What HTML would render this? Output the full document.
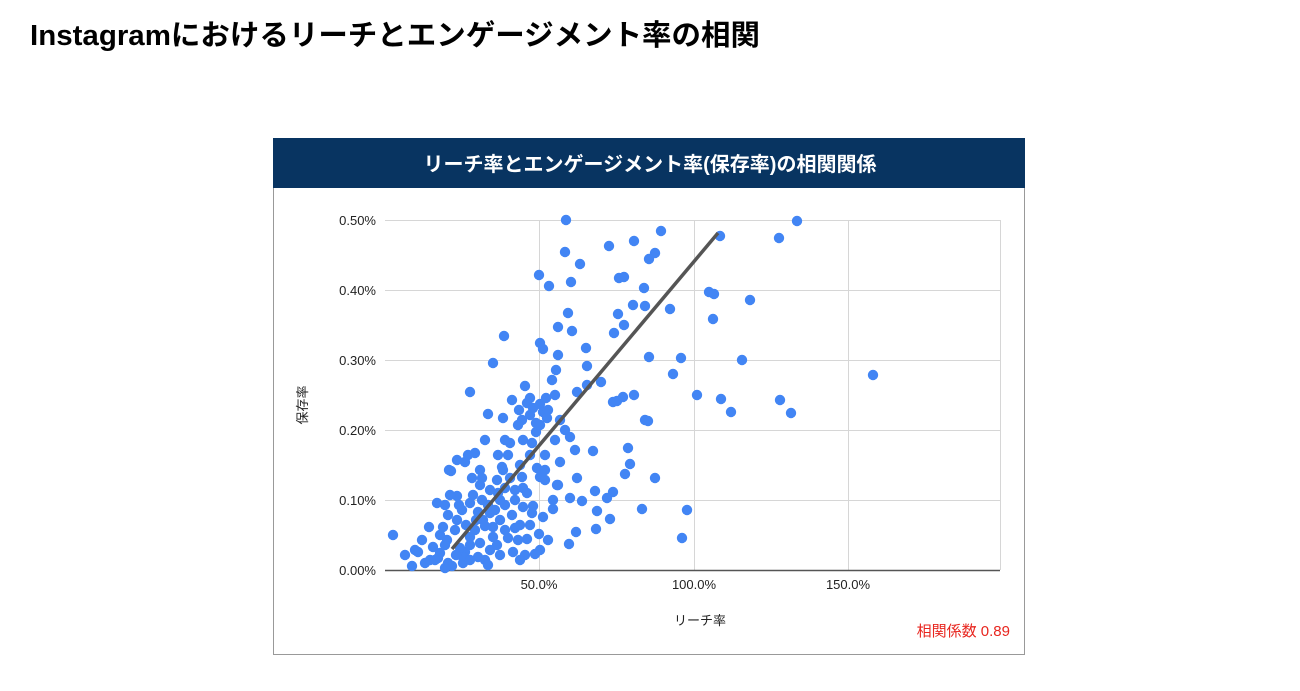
<!DOCTYPE html>
<html><head><meta charset="utf-8"><style>
html,body{margin:0;padding:0;background:#fff;width:1300px;height:691px;overflow:hidden}
svg{display:block}
text{font-family:"Liberation Sans","Noto Sans CJK JP",sans-serif}
</style></head><body>
<svg width="1300" height="691" viewBox="0 0 1300 691" xmlns="http://www.w3.org/2000/svg">
<text x="30" y="45" font-size="29" font-weight="bold" fill="#000" textLength="730" lengthAdjust="spacingAndGlyphs">Instagramにおけるリーチとエンゲージメント率の相関</text>
<rect x="273.5" y="138.5" width="751" height="516" fill="#fff" stroke="#999" stroke-width="1"/>
<rect x="273" y="138" width="752" height="50" fill="#083461"/>
<text x="650" y="171" font-size="20" font-weight="bold" fill="#fff" text-anchor="middle">リーチ率とエンゲージメント率(保存率)の相関関係</text>
<g stroke="#d6d6d6" stroke-width="1">
<line x1="385" y1="220.5" x2="1000" y2="220.5"/>
<line x1="385" y1="290.5" x2="1000" y2="290.5"/>
<line x1="385" y1="360.5" x2="1000" y2="360.5"/>
<line x1="385" y1="430.5" x2="1000" y2="430.5"/>
<line x1="385" y1="500.5" x2="1000" y2="500.5"/>
<line x1="539.5" y1="220" x2="539.5" y2="570"/>
<line x1="694.5" y1="220" x2="694.5" y2="570"/>
<line x1="848.5" y1="220" x2="848.5" y2="570"/>
<line x1="1000.5" y1="220" x2="1000.5" y2="570"/>
</g>
<line x1="385" y1="570.5" x2="1000" y2="570.5" stroke="#555" stroke-width="1.5"/>
<g font-size="13" fill="#222" text-anchor="end">
<text x="376" y="225">0.50%</text><text x="376" y="295">0.40%</text><text x="376" y="365">0.30%</text>
<text x="376" y="435">0.20%</text><text x="376" y="505">0.10%</text><text x="376" y="575">0.00%</text>
</g>
<g font-size="13" fill="#222" text-anchor="middle">
<text x="539" y="589">50.0%</text><text x="694" y="589">100.0%</text><text x="848" y="589">150.0%</text>
<text x="700" y="625">リーチ率</text>
</g>
<text transform="translate(307,405) rotate(-90)" font-size="13" fill="#222" text-anchor="middle">保存率</text>
<text x="1010" y="636" font-size="15" fill="#e8261f" text-anchor="end">相関係数 0.89</text>
<g fill="#4285f4">
<circle cx="566" cy="220" r="5.2"/><circle cx="661" cy="231" r="5.2"/><circle cx="720" cy="236" r="5.2"/><circle cx="797" cy="221" r="5.2"/><circle cx="779" cy="238" r="5.2"/><circle cx="634" cy="241" r="5.2"/><circle cx="565" cy="252" r="5.2"/><circle cx="609" cy="246" r="5.2"/><circle cx="655" cy="253" r="5.2"/><circle cx="649" cy="259" r="5.2"/><circle cx="580" cy="264" r="5.2"/><circle cx="539" cy="275" r="5.2"/><circle cx="619" cy="278" r="5.2"/><circle cx="624" cy="277" r="5.2"/><circle cx="571" cy="282" r="5.2"/><circle cx="549" cy="286" r="5.2"/><circle cx="644" cy="288" r="5.2"/><circle cx="709" cy="292" r="5.2"/><circle cx="714" cy="294" r="5.2"/><circle cx="504" cy="336" r="5.2"/><circle cx="645" cy="306" r="5.2"/><circle cx="633" cy="305" r="5.2"/><circle cx="618" cy="314" r="5.2"/><circle cx="568" cy="313" r="5.2"/><circle cx="750" cy="300" r="5.2"/><circle cx="670" cy="309" r="5.2"/><circle cx="558" cy="327" r="5.2"/><circle cx="572" cy="331" r="5.2"/><circle cx="614" cy="333" r="5.2"/><circle cx="586" cy="348" r="5.2"/><circle cx="540" cy="343" r="5.2"/><circle cx="543" cy="349" r="5.2"/><circle cx="624" cy="325" r="5.2"/><circle cx="713" cy="319" r="5.2"/><circle cx="493" cy="363" r="5.2"/><circle cx="558" cy="355" r="5.2"/><circle cx="649" cy="357" r="5.2"/><circle cx="681" cy="358" r="5.2"/><circle cx="742" cy="360" r="5.2"/><circle cx="873" cy="375" r="5.2"/><circle cx="470" cy="392" r="5.2"/><circle cx="556" cy="370" r="5.2"/><circle cx="525" cy="386" r="5.2"/><circle cx="587" cy="366" r="5.2"/><circle cx="673" cy="374" r="5.2"/><circle cx="697" cy="395" r="5.2"/><circle cx="721" cy="399" r="5.2"/><circle cx="780" cy="400" r="5.2"/><circle cx="731" cy="412" r="5.2"/><circle cx="791" cy="413" r="5.2"/><circle cx="577" cy="392" r="5.2"/><circle cx="601" cy="382" r="5.2"/><circle cx="623" cy="397" r="5.2"/><circle cx="634" cy="395" r="5.2"/><circle cx="645" cy="420" r="5.2"/><circle cx="613" cy="402" r="5.2"/>
<circle cx="552" cy="380" r="5.2"/><circle cx="587" cy="385" r="5.2"/><circle cx="617" cy="401" r="5.2"/><circle cx="648" cy="421" r="5.2"/><circle cx="488" cy="414" r="5.2"/><circle cx="503" cy="418" r="5.2"/><circle cx="527" cy="403" r="5.2"/><circle cx="533" cy="408" r="5.2"/><circle cx="540" cy="404" r="5.2"/><circle cx="543" cy="412" r="5.2"/><circle cx="530" cy="415" r="5.2"/><circle cx="522" cy="420" r="5.2"/><circle cx="536" cy="423" r="5.2"/><circle cx="547" cy="418" r="5.2"/><circle cx="519" cy="410" r="5.2"/><circle cx="530" cy="398" r="5.2"/><circle cx="546" cy="398" r="5.2"/><circle cx="536" cy="432" r="5.2"/><circle cx="485" cy="440" r="5.2"/><circle cx="510" cy="443" r="5.2"/><circle cx="523" cy="440" r="5.2"/><circle cx="532" cy="443" r="5.2"/><circle cx="570" cy="437" r="5.2"/><circle cx="575" cy="450" r="5.2"/><circle cx="593" cy="451" r="5.2"/><circle cx="628" cy="448" r="5.2"/><circle cx="630" cy="464" r="5.2"/><circle cx="560" cy="462" r="5.2"/><circle cx="545" cy="455" r="5.2"/><circle cx="577" cy="478" r="5.2"/><circle cx="558" cy="485" r="5.2"/><circle cx="595" cy="491" r="5.2"/><circle cx="613" cy="492" r="5.2"/><circle cx="607" cy="498" r="5.2"/><circle cx="625" cy="474" r="5.2"/><circle cx="655" cy="478" r="5.2"/><circle cx="570" cy="498" r="5.2"/><circle cx="582" cy="501" r="5.2"/><circle cx="553" cy="500" r="5.2"/><circle cx="553" cy="509" r="5.2"/><circle cx="597" cy="511" r="5.2"/><circle cx="610" cy="519" r="5.2"/><circle cx="642" cy="509" r="5.2"/><circle cx="687" cy="510" r="5.2"/><circle cx="576" cy="532" r="5.2"/><circle cx="596" cy="529" r="5.2"/><circle cx="569" cy="544" r="5.2"/><circle cx="682" cy="538" r="5.2"/><circle cx="393" cy="535" r="5.2"/><circle cx="412" cy="566" r="5.2"/><circle cx="437" cy="503" r="5.2"/><circle cx="451" cy="471" r="5.2"/><circle cx="457" cy="496" r="5.2"/><circle cx="459" cy="505" r="5.2"/><circle cx="465" cy="462" r="5.2"/><circle cx="468" cy="455" r="5.2"/><circle cx="475" cy="453" r="5.2"/><circle cx="472" cy="478" r="5.2"/><circle cx="480" cy="470" r="5.2"/><circle cx="482" cy="478" r="5.2"/><circle cx="497" cy="480" r="5.2"/><circle cx="502" cy="467" r="5.2"/><circle cx="508" cy="455" r="5.2"/><circle cx="503" cy="470" r="5.2"/><circle cx="522" cy="477" r="5.2"/><circle cx="523" cy="488" r="5.2"/><circle cx="527" cy="493" r="5.2"/><circle cx="537" cy="468" r="5.2"/><circle cx="540" cy="477" r="5.2"/><circle cx="545" cy="480" r="5.2"/><circle cx="557" cy="485" r="5.2"/>
<circle cx="448" cy="515" r="5.2"/><circle cx="457" cy="520" r="5.2"/><circle cx="429" cy="527" r="5.2"/><circle cx="443" cy="527" r="5.2"/><circle cx="433" cy="547" r="5.2"/><circle cx="418" cy="552" r="5.2"/><circle cx="438" cy="558" r="5.2"/><circle cx="448" cy="563" r="5.2"/><circle cx="463" cy="563" r="5.2"/><circle cx="478" cy="557" r="5.2"/><circle cx="490" cy="550" r="5.2"/><circle cx="480" cy="543" r="5.2"/><circle cx="470" cy="537" r="5.2"/><circle cx="493" cy="537" r="5.2"/><circle cx="508" cy="538" r="5.2"/><circle cx="515" cy="528" r="5.2"/><circle cx="512" cy="515" r="5.2"/><circle cx="505" cy="505" r="5.2"/><circle cx="490" cy="513" r="5.2"/><circle cx="482" cy="500" r="5.2"/><circle cx="473" cy="495" r="5.2"/><circle cx="498" cy="493" r="5.2"/><circle cx="513" cy="552" r="5.2"/><circle cx="525" cy="555" r="5.2"/><circle cx="535" cy="554" r="5.2"/><circle cx="527" cy="539" r="5.2"/><circle cx="539" cy="534" r="5.2"/><circle cx="532" cy="513" r="5.2"/><circle cx="543" cy="517" r="5.2"/><circle cx="523" cy="507" r="5.2"/><circle cx="533" cy="506" r="5.2"/><circle cx="465" cy="552" r="5.2"/><circle cx="447" cy="540" r="5.2"/><circle cx="483" cy="520" r="5.2"/><circle cx="493" cy="527" r="5.2"/><circle cx="500" cy="520" r="5.2"/>
<circle cx="440" cy="553" r="5.2"/><circle cx="445" cy="545" r="5.2"/><circle cx="422" cy="540" r="5.2"/><circle cx="425" cy="563" r="5.2"/><circle cx="462" cy="556" r="5.2"/><circle cx="449" cy="470" r="5.2"/><circle cx="457" cy="460" r="5.2"/><circle cx="470" cy="503" r="5.2"/><circle cx="450" cy="495" r="5.2"/><circle cx="480" cy="485" r="5.2"/><circle cx="485" cy="526" r="5.2"/><circle cx="452" cy="566" r="5.2"/><circle cx="460" cy="548" r="5.2"/><circle cx="470" cy="545" r="5.2"/><circle cx="475" cy="530" r="5.2"/><circle cx="488" cy="505" r="5.2"/><circle cx="495" cy="510" r="5.2"/><circle cx="500" cy="500" r="5.2"/><circle cx="505" cy="488" r="5.2"/><circle cx="515" cy="490" r="5.2"/><circle cx="510" cy="478" r="5.2"/><circle cx="490" cy="490" r="5.2"/><circle cx="478" cy="512" r="5.2"/><circle cx="466" cy="525" r="5.2"/><circle cx="455" cy="530" r="5.2"/><circle cx="440" cy="535" r="5.2"/><circle cx="435" cy="560" r="5.2"/><circle cx="456" cy="555" r="5.2"/><circle cx="470" cy="560" r="5.2"/><circle cx="485" cy="560" r="5.2"/><circle cx="497" cy="545" r="5.2"/><circle cx="505" cy="530" r="5.2"/><circle cx="518" cy="540" r="5.2"/><circle cx="520" cy="525" r="5.2"/><circle cx="500" cy="555" r="5.2"/><circle cx="488" cy="565" r="5.2"/><circle cx="476" cy="520" r="5.2"/><circle cx="462" cy="510" r="5.2"/><circle cx="445" cy="505" r="5.2"/><circle cx="530" cy="525" r="5.2"/><circle cx="548" cy="540" r="5.2"/><circle cx="515" cy="500" r="5.2"/><circle cx="520" cy="465" r="5.2"/><circle cx="498" cy="455" r="5.2"/><circle cx="505" cy="440" r="5.2"/><circle cx="530" cy="455" r="5.2"/><circle cx="545" cy="470" r="5.2"/><circle cx="555" cy="440" r="5.2"/><circle cx="565" cy="430" r="5.2"/><circle cx="560" cy="420" r="5.2"/><circle cx="540" cy="425" r="5.2"/><circle cx="518" cy="425" r="5.2"/><circle cx="512" cy="400" r="5.2"/><circle cx="555" cy="395" r="5.2"/><circle cx="548" cy="410" r="5.2"/><circle cx="430" cy="560" r="5.2"/><circle cx="445" cy="568" r="5.2"/><circle cx="405" cy="555" r="5.2"/><circle cx="415" cy="550" r="5.2"/><circle cx="520" cy="560" r="5.2"/><circle cx="540" cy="550" r="5.2"/>
</g>
<line x1="452" y1="549" x2="718" y2="233" stroke="#555" stroke-width="3.5"/>
</svg>
</body></html>
